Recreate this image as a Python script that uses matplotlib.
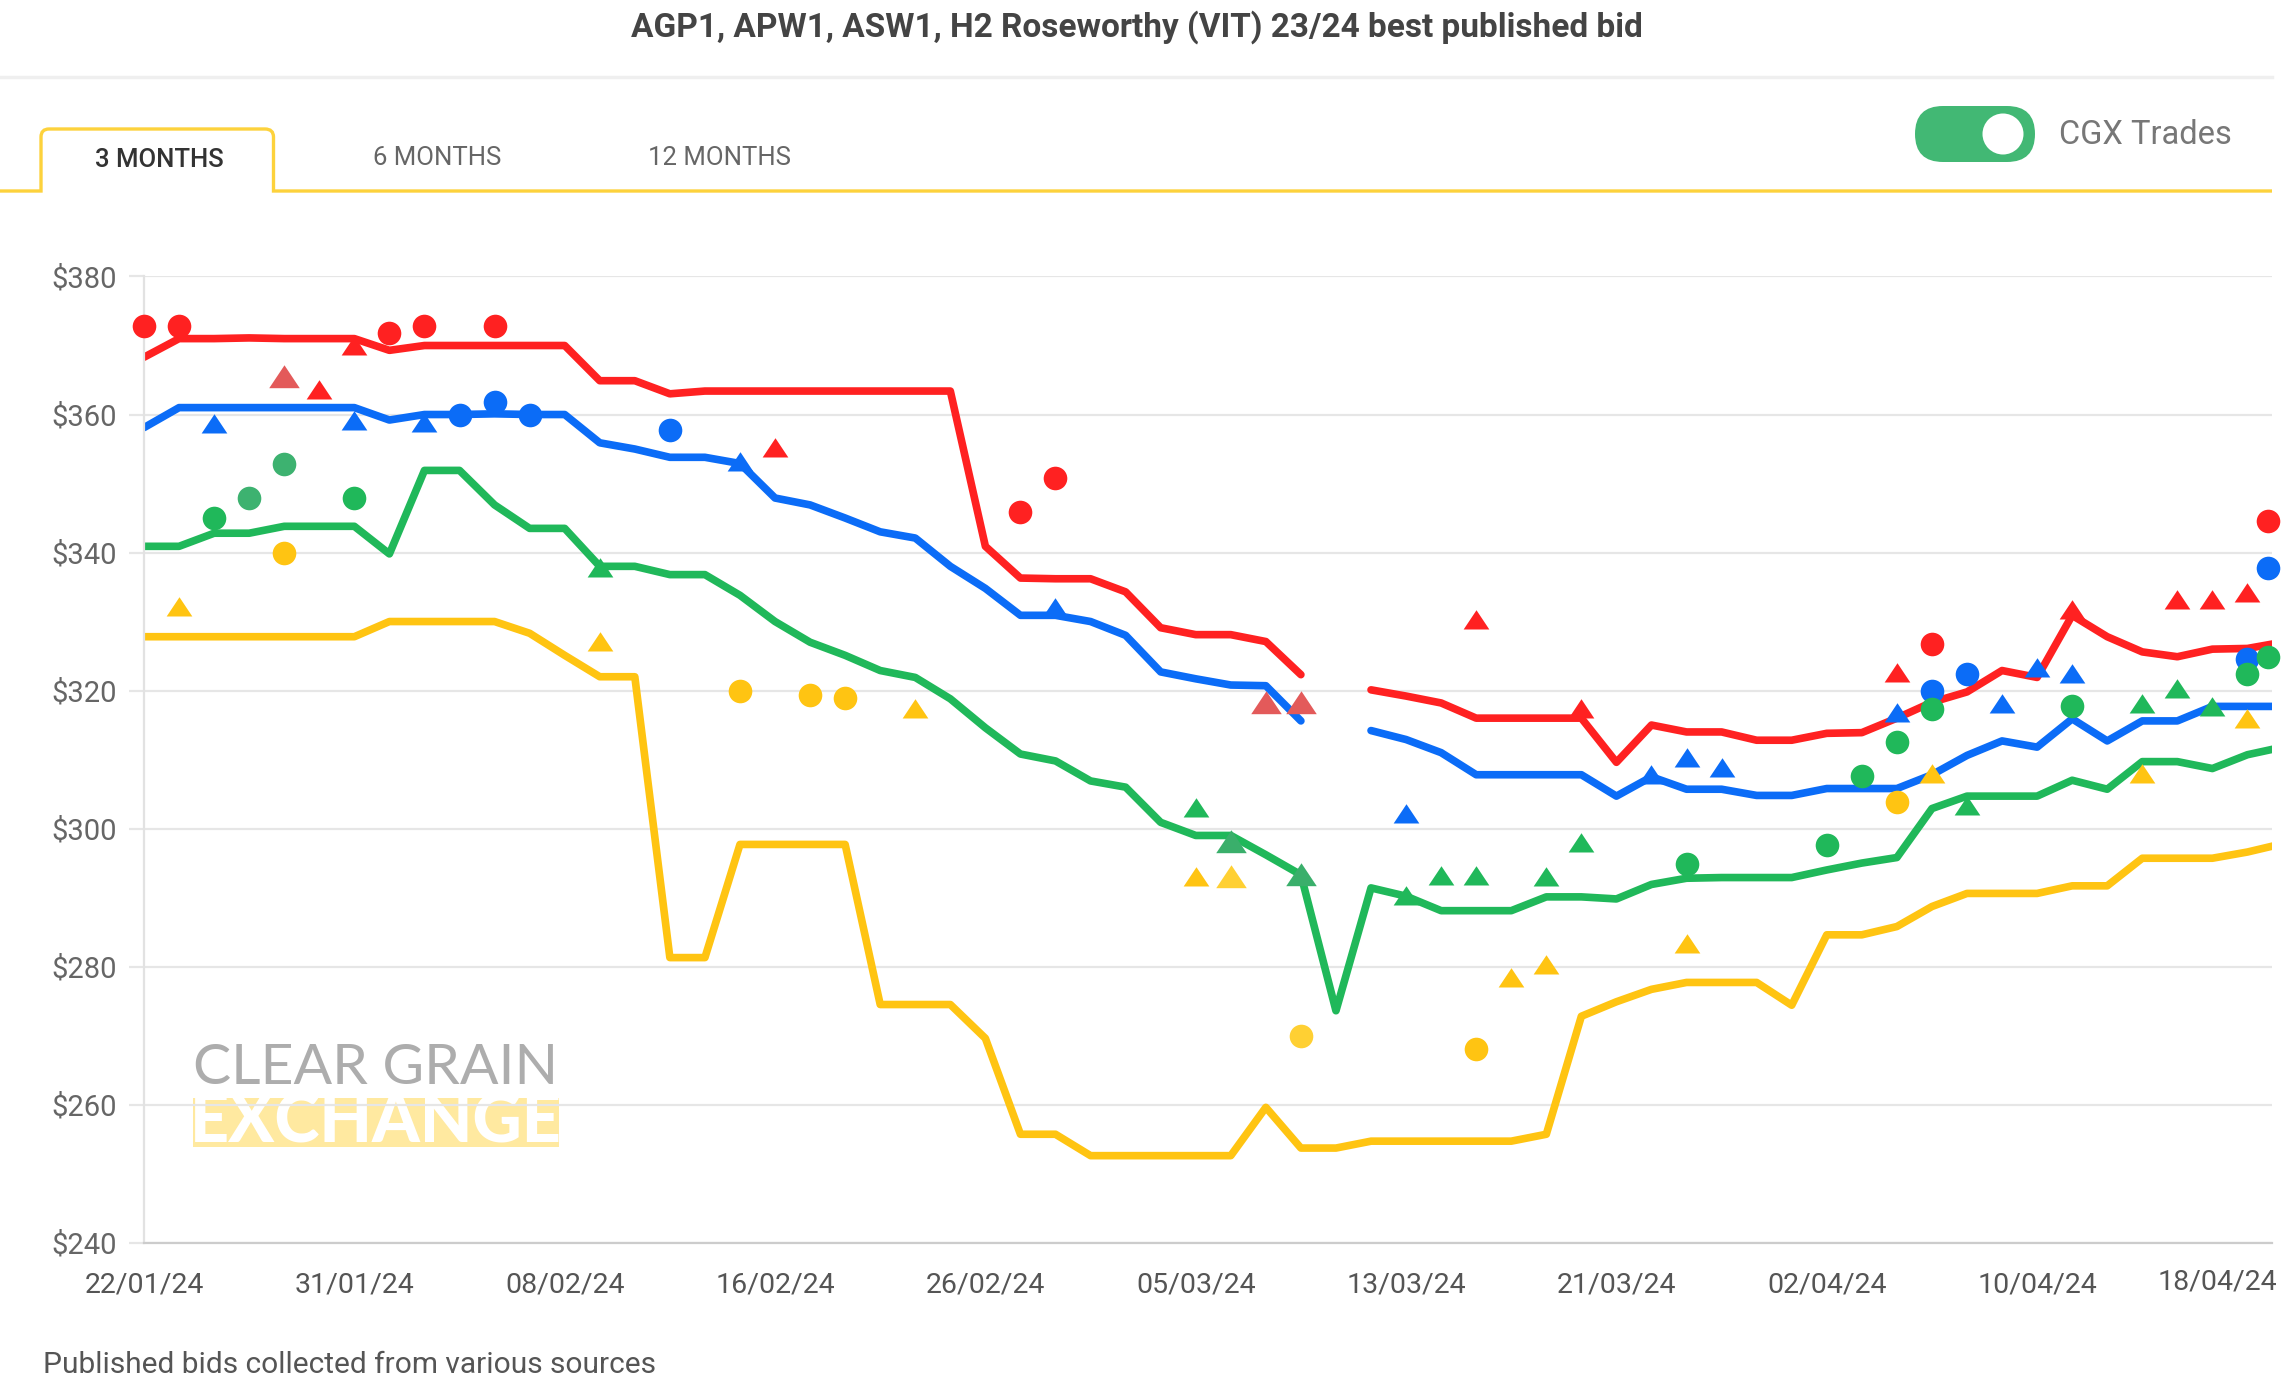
import numpy as np
import pandas as pd
import matplotlib
matplotlib.use('Agg')
import matplotlib.pyplot as plt
from matplotlib.patches import FancyBboxPatch, Circle, Rectangle, PathPatch
from matplotlib.path import Path
from matplotlib.transforms import ScaledTranslation

plt.rcParams['font.family'] = ['Roboto', 'DejaVu Sans']

# trading days shown on the category axis
dates = pd.bdate_range('2024-01-22', '2024-04-19', freq='C',
                       holidays=['2024-01-26', '2024-03-29', '2024-04-01'])
tick_labels = [d.strftime('%d/%m/%y') for d in dates[::6]]

nan = np.nan
red = [368.3, 371, 371, 371.1, 371, 371, 371, 369.3, 370, 370, 370, 370, 370,
       364.9, 364.9, 363, 363.4, 363.4, 363.4, 363.4, 363.4, 363.4, 363.4, 363.4,
       340.9, 336.3, 336.2, 336.2, 334.3, 329.1, 328.1, 328.1, 327.1, 322.3, nan,
       320.1, 319.2, 318.2, 316, 316, 316, 316, 309.6, 315, 314, 314, 312.8, 312.8,
       313.8, 313.9, 316, 318.3, 319.8, 322.9, 321.9, 330.9, 327.8, 325.6, 324.9,
       326, 326.1, 327]
blue = [358.1, 361, 361, 361, 361, 361, 361, 359.2, 360, 360, 360.1, 360, 360,
        355.9, 355, 353.8, 353.8, 352.9, 347.9, 346.9, 345, 343, 342.1, 338,
        334.8, 330.9, 330.9, 330, 328, 322.7, 321.7, 320.8, 320.7, 315.6, nan,
        314.2, 312.9, 311, 307.8, 307.8, 307.8, 307.8, 304.7, 307.5, 305.7, 305.7,
        304.8, 304.8, 305.8, 305.8, 305.8, 307.8, 310.6, 312.7, 311.8, 315.9, 312.7,
        315.6, 315.6, 317.7, 317.7, 317.7]
green = [340.9, 340.9, 342.8, 342.8, 343.8, 343.8, 343.8, 339.8, 351.9, 351.9,
         346.9, 343.5, 343.5, 338, 338, 336.8, 336.8, 333.8, 330, 327, 325.1, 322.9,
         321.9, 318.8, 314.6, 310.8, 309.8, 306.9, 306, 300.9, 299, 299, 296.2, 293.3,
         273.6, 291.4, 290.2, 288.1, 288.1, 288.1, 290.1, 290.1, 289.8, 291.9, 292.8,
         292.9, 292.9, 292.9, 294, 295, 295.8, 302.9, 304.7, 304.7, 304.7, 307, 305.7,
         309.7, 309.7, 308.7, 310.7, 311.8]
yellow = [327.8, 327.8, 327.8, 327.8, 327.8, 327.8, 327.8, 330, 330, 330, 330, 328.3,
          325.1, 322, 322, 281.3, 281.3, 297.7, 297.7, 297.7, 297.7, 274.5, 274.5,
          274.5, 269.6, 255.7, 255.7, 252.6, 252.6, 252.6, 252.6, 252.6, 259.6, 253.7,
          253.7, 254.7, 254.7, 254.7, 254.7, 254.7, 255.7, 272.8, 274.9, 276.7, 277.7,
          277.7, 277.7, 274.4, 284.6, 284.6, 285.8, 288.7, 290.6, 290.6, 290.6, 291.7,
          291.7, 295.7, 295.7, 295.7, 296.6, 297.8]

# CGX trades (x = trading day index)
red_dot_x = [0, 1, 7, 8, 10, 25, 26, 51, 60.6]
red_dot_y = [372.8, 372.8, 371.8, 372.8, 372.8, 345.9, 350.8, 326.8, 344.5]
red_tri_x = [5, 6, 18, 38, 41, 50, 55, 58, 59, 60]
red_tri_y = [363.6, 370, 355.2, 330.2, 317.3, 322.5, 331.6, 333.1, 333.1, 334.1]
red_tri_fade_x = [4, 32, 33]
red_tri_fade_y = [365.4, 318.2, 318.2]

blue_dot_x = [9, 10, 11, 15, 51, 52, 60, 60.6]
blue_dot_y = [359.9, 361.8, 359.9, 357.8, 320, 322.4, 324.6, 337.7]
blue_tri_x = [2, 6, 8, 17, 26, 36, 43, 44, 45, 50, 53, 54, 55]
blue_tri_y = [358.6, 359, 358.8, 353.1, 331.9, 302.1, 307.8, 310.2, 308.8, 316.8,
              318.1, 323.2, 322.4]

green_dot_x = [2, 6, 44, 48, 49, 50, 51, 55, 60, 60.6]
green_dot_y = [345, 347.9, 294.8, 297.6, 307.6, 312.6, 317.3, 317.8, 322.4, 324.9]
green_dot_fade_x = [3, 4]
green_dot_fade_y = [347.9, 352.8]
green_tri_x = [13, 30, 36, 37, 38, 40, 41, 52, 57, 58, 59]
green_tri_y = [337.7, 303, 290.2, 293.1, 293.1, 293, 297.9, 303.2, 318, 320.2, 317.6]
green_tri_fade_x = [31, 33]
green_tri_fade_y = [298, 293.2]

yellow_dot_x = [4, 17, 19, 20, 38, 50]
yellow_dot_y = [339.9, 319.9, 319.4, 318.9, 268, 303.8]
yellow_dot_fade_x = [33]
yellow_dot_fade_y = [270]
yellow_tri_x = [1, 13, 22, 30, 39, 40, 44, 51, 57, 60]
yellow_tri_y = [332.1, 327, 317.3, 293, 278.3, 280.3, 283.2, 307.9, 307.9, 315.9]
yellow_tri_fade_x = [31]
yellow_tri_fade_y = [293]

c_red = '#ff2121'
c_blue = '#0b6cf7'
c_green = '#20b85a'
c_yellow = '#ffc412'

W, H = 2294, 1400
fig = plt.figure(figsize=(W / 100, H / 100), dpi=100)
fig.patch.set_facecolor('white')

# background layer in pixel coordinates
bg = fig.add_axes([0, 0, 1, 1], zorder=-1)
bg.set_xlim(0, W)
bg.set_ylim(H, 0)
bg.axis('off')

bg.text(1137, 27, 'AGP1, APW1, ASW1, H2 Roseworthy (VIT) 23/24 best published bid',
        ha='center', va='center', fontsize=24, fontweight='bold', color='#444444')
bg.plot([0, 2272], [77, 77], color='#efefef', lw=2.5)

# tabs
yc = '#fdd23c'
verts = [(0, 191), (41, 191), (41, 137), (41, 129), (49, 129), (265, 129),
         (273.5, 129), (273.5, 137), (273.5, 191), (2272, 191)]
codes = [Path.MOVETO, Path.LINETO, Path.LINETO, Path.CURVE3, Path.CURVE3, Path.LINETO,
         Path.CURVE3, Path.CURVE3, Path.LINETO, Path.LINETO]
bg.add_patch(PathPatch(Path(verts, codes), fill=False, edgecolor=yc, lw=2.4))
bg.text(159, 160, '3 MONTHS', ha='center', va='center', fontsize=18.5,
        fontweight='medium', color='#333333')
bg.text(437, 158, '6 MONTHS', ha='center', va='center', fontsize=18.5, color='#666666')
bg.text(719, 158, '12 MONTHS', ha='center', va='center', fontsize=18.5, color='#666666')

# toggle
bg.add_patch(FancyBboxPatch((1915, 106), 120, 56,
                            boxstyle='round,pad=0,rounding_size=28',
                            facecolor='#42b874', edgecolor='none'))
bg.add_patch(Circle((2003, 134), 20.5, facecolor='white', edgecolor='none'))
bg.text(2059, 135, 'CGX Trades', ha='left', va='center', fontsize=23.5, color='#777777')

bg.text(43, 1365, 'Published bids collected from various sources', ha='left',
        va='center', fontsize=21.5, color='#555555')

# watermark
bg.add_patch(Rectangle((193, 1098), 366, 49, facecolor='#ffe9a0', edgecolor='none'))
wm1 = bg.text(193, 1069, 'CLEAR GRAIN', ha='left', va='center', fontsize=44,
              color='#adadad', family='Lato')
wm2 = bg.text(376, 1123, 'EXCHANGE', ha='center', va='center', fontsize=46,
              color='white', fontweight='black', family='Lato')

# main chart
ax = fig.add_axes([144 / W, 1 - 1242.6 / H, (2272 - 144) / W, (1242.6 - 276.5) / H])
ax.patch.set_alpha(0)
idx = np.arange(len(red))
for s, c in [(yellow, c_yellow), (green, c_green), (blue, c_blue), (red, c_red)]:
    ax.plot(idx, s, color=c, lw=5.5, solid_joinstyle='round',
            solid_capstyle='round', zorder=2)

tri = [(-1, -0.7), (1, -0.7), (0, 0.8)]
ms_dot = 17
ms_tri = 18.5
ms_fade = 22
marks = [
    (red_dot_x, red_dot_y, 'o', c_red, ms_dot),
    (red_tri_x, red_tri_y, tri, c_red, ms_tri),
    (red_tri_fade_x, red_tri_fade_y, tri, '#e35a5a', ms_fade),
    (blue_dot_x, blue_dot_y, 'o', c_blue, ms_dot),
    (blue_tri_x, blue_tri_y, tri, c_blue, ms_tri),
    (green_dot_x, green_dot_y, 'o', c_green, ms_dot),
    (green_dot_fade_x, green_dot_fade_y, 'o', '#3db270', ms_dot),
    (green_tri_x, green_tri_y, tri, c_green, ms_tri),
    (green_tri_fade_x, green_tri_fade_y, tri, '#3aaf6b', ms_fade),
    (yellow_dot_x, yellow_dot_y, 'o', c_yellow, ms_dot),
    (yellow_dot_fade_x, yellow_dot_fade_y, 'o', '#ffd033', ms_dot),
    (yellow_tri_x, yellow_tri_y, tri, c_yellow, ms_tri),
    (yellow_tri_fade_x, yellow_tri_fade_y, tri, '#ffd033', ms_fade),
]
for mx, my, m, c, ms in marks:
    ax.plot(mx, my, linestyle='none', marker=m, color=c, markersize=ms,
            markeredgewidth=0, zorder=3, clip_on=False)

ax.set_xlim(0, 60.7)
ax.set_ylim(240, 380)
ax.set_yticks(range(240, 381, 20))
ax.set_yticklabels(['$%d' % v for v in range(240, 381, 20)])
ax.set_xticks(range(0, len(red), 6))
ax.set_xticklabels(tick_labels)
ax.grid(axis='y', color='#e6e6e6', lw=1.6)
ax.set_axisbelow(True)
ax.tick_params(axis='y', length=10.5, width=1.6, color='#e6e6e6', pad=9,
               labelsize=21, labelcolor='#666666')
ax.tick_params(axis='x', length=0, pad=21, labelsize=20.5, labelcolor='#555555')
for sp in ['top', 'right']:
    ax.spines[sp].set_visible(False)
ax.spines['left'].set_color('#e2e2e2')
ax.spines['left'].set_linewidth(1.6)
ax.spines['bottom'].set_color('#cccccc')
ax.spines['bottom'].set_linewidth(1.6)
last = ax.get_xticklabels()[-1]
last.set_transform(last.get_transform() + ScaledTranslation(-0.3, 0.03, fig.dpi_scale_trans))

# fit watermark text widths
r = fig.canvas.get_renderer()
for t, wpx in [(wm1, 366), (wm2, 372)]:
    w = t.get_window_extent(r).width
    t.set_fontsize(t.get_fontsize() * wpx / w)

fig.savefig('out.png', dpi=100)
